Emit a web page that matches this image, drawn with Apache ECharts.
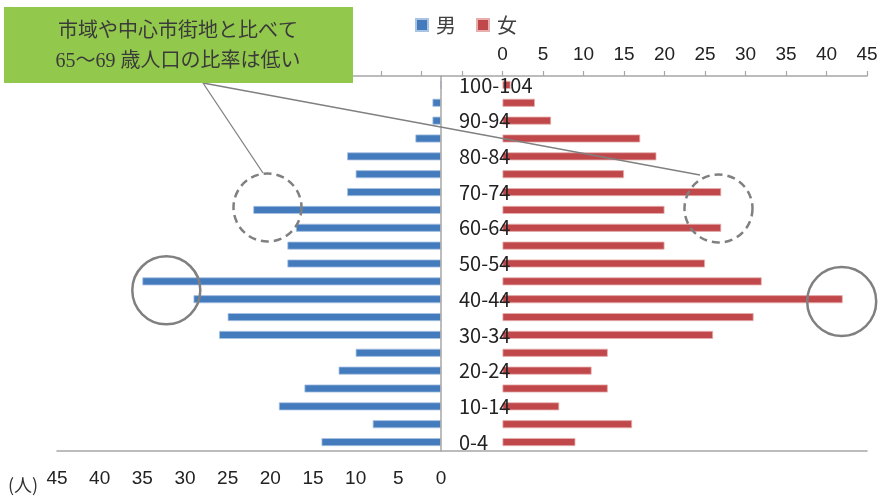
<!DOCTYPE html>
<html><head><meta charset="utf-8">
<script src="https://cdn.jsdelivr.net/npm/echarts@6/dist/echarts.min.js"></script>
<style>html,body{margin:0;padding:0;background:#fff}#c{width:881px;height:497px}</style>
</head><body><div id="c"></div>
<script>
const categories = ['0-4','5-9','10-14','15-19','20-24','25-29','30-34','35-39','40-44','45-49','50-54','55-59','60-64','65-69','70-74','75-79','80-84','85-89','90-94','95-99','100-104'];
const male   = [14, 8, 19, 16, 12, 10, 26, 25, 29, 35, 18, 18, 17, 22, 11, 10, 11, 3, 1, 1, 0];
const female = [9, 16, 7, 13, 11, 13, 26, 31, 42, 32, 25, 20, 27, 20, 27, 15, 19, 17, 6, 4, 1];
const legendNames = ['男', '女'];
const unitLabel = '(人)';
const noteLines = ['市域や中心市街地と比べて', '65～69 歳人口の比率は低い'];

const chart = echarts.init(document.getElementById('c'));
const numFont = '"Liberation Sans", Arial, sans-serif';
const jpFont = '"Noto Sans CJK JP", sans-serif';
const axisGrey = '#a6a6a6';
const ring = '#808080';
const hideNeg = v => v < 0 ? '' : String(v);

chart.setOption({
  animation: false,
  legend: {
    data: legendNames, left: 410, top: 10, itemWidth: 12, itemHeight: 12, itemGap: 20,
    icon: 'rect',
    textStyle: { fontFamily: jpFont, fontSize: 20, color: '#404040', padding: [0, 0, 0, 3] }
  },
  grid: [
    { left: 57, right: 440, top: 76, height: 375, outerBoundsMode: 'none', containLabel: false },
    { left: 57, right: 14, top: 76, height: 375, outerBoundsMode: 'none', containLabel: false }
  ],
  xAxis: [
    { gridIndex: 0, type: 'value', position: 'bottom', inverse: true, min: 0, max: 45, interval: 5,
      splitLine: { show: false }, axisTick: { show: false },
      axisLine: { show: false },
      axisLabel: { margin: 18, fontFamily: numFont, fontSize: 19, color: '#222' } },
    { gridIndex: 1, type: 'value', position: 'top', min: -55, max: 45, interval: 5,
      splitLine: { show: false },
      axisTick: { show: true, length: 5, lineStyle: { color: axisGrey, width: 1.2 } },
      axisLine: { show: true, onZero: false, lineStyle: { color: axisGrey, width: 1.5 } },
      axisLabel: { margin: 12, fontFamily: numFont, fontSize: 19, color: '#222', formatter: hideNeg } },
    { gridIndex: 1, type: 'value', position: 'bottom', min: -55, max: 45, interval: 5,
      splitLine: { show: false }, axisTick: { show: false }, axisLabel: { show: false },
      axisLine: { show: true, onZero: false, lineStyle: { color: axisGrey, width: 1.5 } } }
  ],
  yAxis: [
    { gridIndex: 0, type: 'category', data: categories, position: 'right', z: 10,
      axisTick: { show: false },
      axisLine: { show: true, onZero: false, lineStyle: { color: axisGrey, width: 1.5 } },
      axisLabel: { interval: 1, margin: 18, align: 'left', fontFamily: jpFont, fontSize: 20, color: '#222' } },
    { gridIndex: 1, type: 'category', data: categories, show: false }
  ],
  series: [
    { name: legendNames[0], type: 'bar', xAxisIndex: 0, yAxisIndex: 0, data: male, barWidth: 8,
      itemStyle: { color: '#447bbd', borderColor: '#a9c3e3', borderWidth: 0.8 } },
    { name: legendNames[1], type: 'bar', xAxisIndex: 1, yAxisIndex: 1, data: female, barWidth: 8,
      itemStyle: { color: '#c0484a', borderColor: '#e7aeae', borderWidth: 0.8 } }
  ],
  graphic: [
    { type: 'rect', shape: { x: 4, y: 7, width: 349, height: 76 }, style: { fill: '#92c84b' }, z: 20 },
    { type: 'text', x: 178, y: 32, z: 21, style: { text: noteLines[0], align: 'center', verticalAlign: 'middle',
        font: '400 20px "Liberation Serif", "Noto Sans CJK JP", serif', fill: '#3a3a3a' } },
    { type: 'text', x: 178, y: 62, z: 21, style: { text: noteLines[1], align: 'center', verticalAlign: 'middle',
        font: '400 20px "Liberation Serif", "Noto Sans CJK JP", serif', fill: '#3a3a3a' } },
    { type: 'line', z: 19, shape: { x1: 203, y1: 83, x2: 263, y2: 173 }, style: { stroke: ring, lineWidth: 1.3 } },
    { type: 'line', z: 19, shape: { x1: 203, y1: 83, x2: 700, y2: 175 }, style: { stroke: ring, lineWidth: 1.3 } },
    { type: 'circle', z: 19, shape: { cx: 267.5, cy: 207.5, r: 34 }, style: { fill: 'none', stroke: ring, lineWidth: 2.5, lineDash: [8, 5] } },
    { type: 'circle', z: 19, shape: { cx: 718.5, cy: 208.5, r: 34 }, style: { fill: 'none', stroke: ring, lineWidth: 2.5, lineDash: [8, 5] } },
    { type: 'circle', z: 19, shape: { cx: 166.3, cy: 290.3, r: 34 }, style: { fill: 'none', stroke: ring, lineWidth: 2.5 } },
    { type: 'circle', z: 19, shape: { cx: 841.7, cy: 301.5, r: 34.5 }, style: { fill: 'none', stroke: ring, lineWidth: 2.5 } },
    { type: 'text', x: 8, y: 485, z: 21, style: { text: unitLabel, verticalAlign: 'middle',
        font: '18px "Noto Sans CJK JP", sans-serif', fill: '#333' } }
  ]
});
</script></body></html>
